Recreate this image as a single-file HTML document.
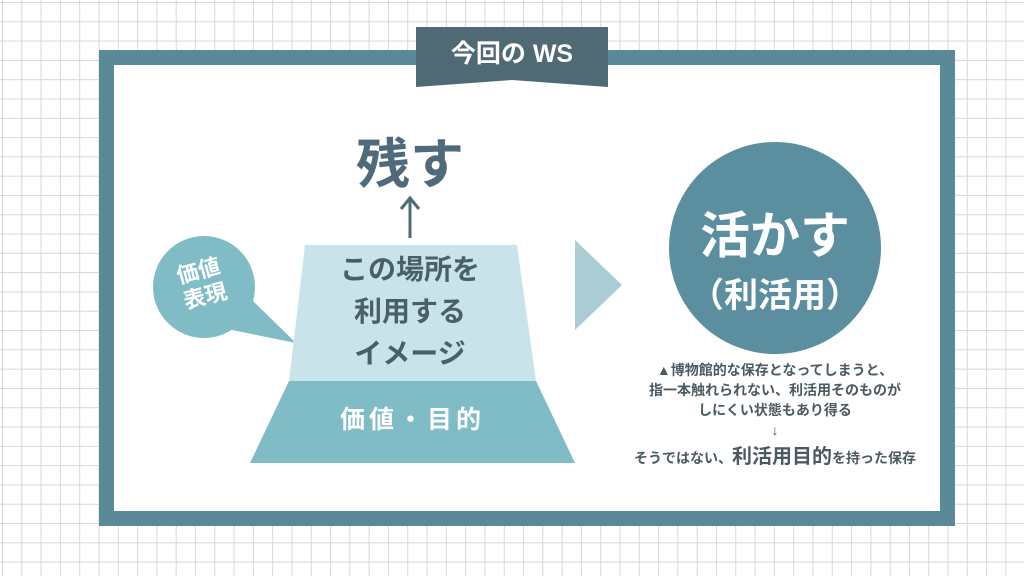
<!DOCTYPE html>
<html><head><meta charset="utf-8"><style>
html,body{margin:0;padding:0}
body{width:1024px;height:576px;position:relative;overflow:hidden;background:#fff;
background-image:linear-gradient(#d6d6d6 1px,transparent 1px),linear-gradient(90deg,#d6d6d6 1px,transparent 1px);
background-size:19.3px 19.3px;background-position:2px 2px;
font-family:"Liberation Sans","Noto Sans CJK JP",sans-serif}
.a{position:absolute}
.t{position:absolute;white-space:nowrap;text-align:center}
</style></head><body>
<div class="a" style="left:99px;top:50px;width:826px;height:446px;border:15px solid #5a8a98;background:#fff"></div>
<svg class="a" style="left:0;top:0" width="1024" height="576">
<polygon points="416,27 608,27 608,87 512,80 416,87" fill="#4f6a74"/>
<circle cx="204" cy="287" r="51" fill="#7fbcc6"/>
<polygon points="232,330 296,343 252,300" fill="#7fbcc6"/>
<polygon points="305,245 517,245 536,381 289,381" fill="#c8e4ea"/>
<polygon points="289,381 536,381 575,463 250,463" fill="#7fbcc6"/>
<polygon points="575,240 622,285 575,330" fill="#a9ccd5"/>
<circle cx="775" cy="248" r="106" fill="#5b8fa0"/>
<line x1="410" y1="200" x2="410" y2="238" stroke="#4f6a7a" stroke-width="3"/>
<polyline points="401,209 410,198 419,209" fill="none" stroke="#4f6a7a" stroke-width="3"/>
</svg>
<div class="t" style="left:416px;top:34px;width:192px;font-size:25px;color:#fff;font-weight:bold">今回の WS</div>
<div class="t" style="left:340px;top:120px;width:140px;font-size:54px;color:#4f6a7a;font-weight:bold">残す</div>
<div class="t" style="left:162px;top:258px;width:80px;font-size:22px;line-height:26px;color:#fff;font-weight:bold;transform:rotate(-15deg)">価値<br>表現</div>
<div class="t" style="left:300px;top:249px;width:220px;font-size:28px;line-height:42px;color:#4a5f6a;font-weight:bold">この場所を<br>利用する<br>イメージ</div>
<div class="t" style="left:300px;top:400px;width:225px;font-size:25px;color:#fff;font-weight:bold;letter-spacing:4px">価値・目的</div>
<div class="t" style="left:669px;top:196px;width:212px;font-size:50px;color:#fff;font-weight:bold">活かす</div>
<div class="t" style="left:669px;top:268px;width:212px;font-size:34px;color:#fff;font-weight:bold">（利活用）</div>
<div class="t" style="left:600px;top:360px;width:350px;font-size:14px;line-height:20px;color:#4a5a62;font-weight:bold">▲博物館的な保存となってしまうと、<br>指一本触れられない、利活用そのものが<br>しにくい状態もあり得る<br>↓</div>
<div class="t" style="left:600px;top:440px;width:350px;font-size:14px;color:#4a5a62;font-weight:bold">そうではない、<span style="font-size:20px">利活用目的</span>を持った保存</div>
</body></html>
